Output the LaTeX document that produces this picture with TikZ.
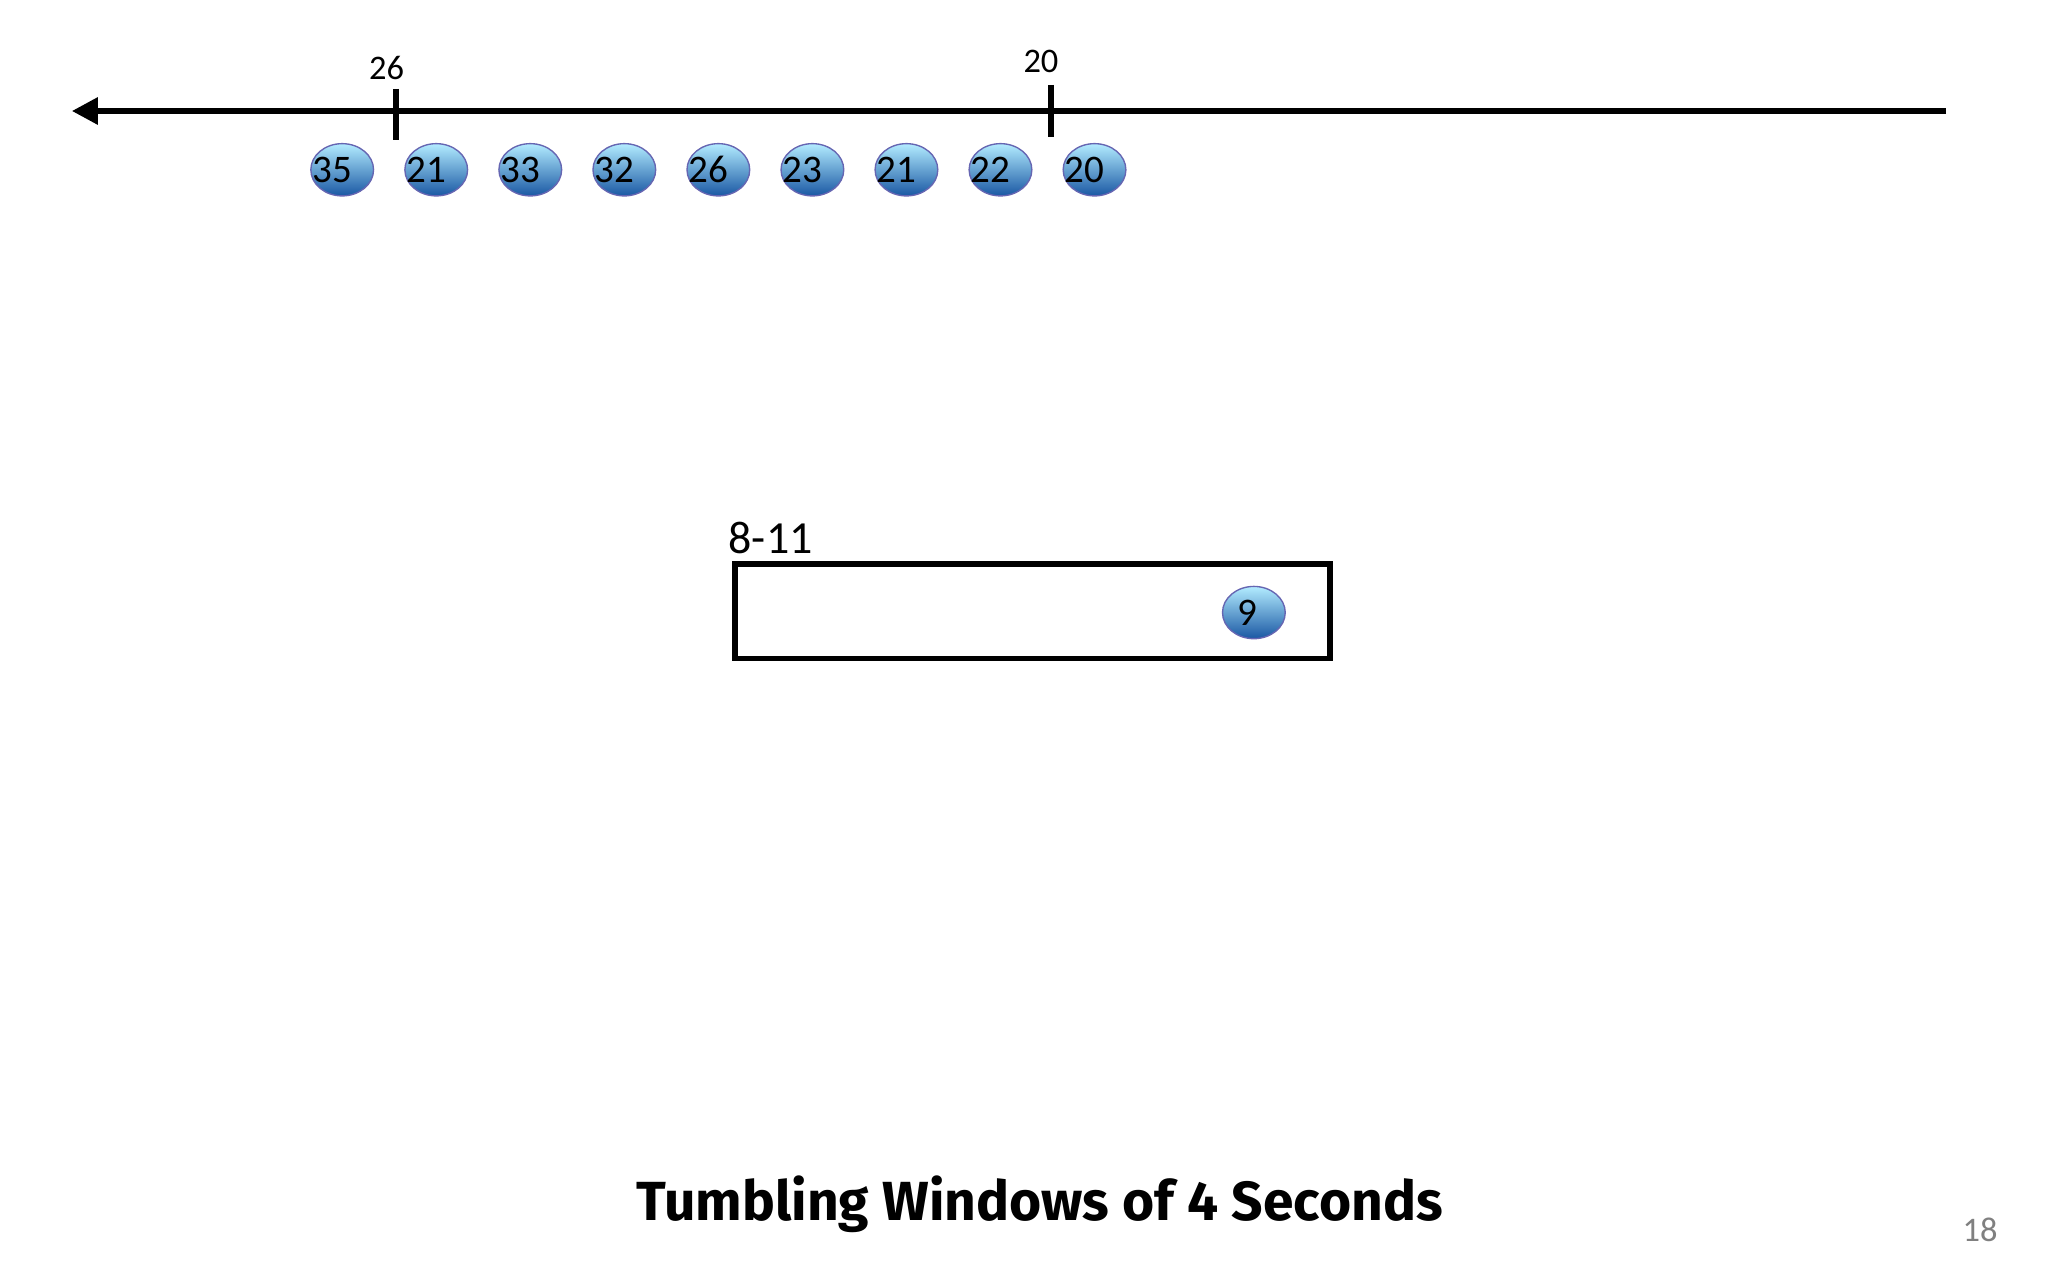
\documentclass[tikz,border=0pt]{standalone}
\usepackage{fontspec}
\setmainfont{Carlito}
\newfontfamily\titlefont{Fira Sans}
\usetikzlibrary{arrows.meta,shapes.geometric}
\begin{document}
\begin{tikzpicture}[x=0.01cm,y=-0.01cm,
  ev/.style={ellipse,minimum width=0.48cm,minimum height=0.4cm,inner sep=0pt,draw=blue!50!black!60,line width=0.3pt,top color=blue!25!cyan!30!white,bottom color=blue!55!cyan!60!black!90,font=\fontsize{8.5}{9}\selectfont},
  tick/.style={line width=1.3pt},
  lab/.style={font=\fontsize{7.5}{8}\selectfont}]
\useasboundingbox (0,0) rectangle (1568,980);
\coordinate (R) at (1490,85);
\coordinate (L) at (55,85);
\draw[line width=1.3pt,-{Triangle[length=0.2cm,width=0.2cm]}] (R) -- (L);
\draw[tick] (303,68) -- (303,107);
\draw[tick] (805,65) -- (805,105);
\node[lab] (t26) at (296,52) {26};
\node[lab] (t20) at (797,47) {20};
\foreach \v [count=\i from 0] in {35,21,33,32,26,23,21,22,20}{
  \node[ev] (e\i) at (262+72*\i,130) {\hspace*{-0.15cm}\v};
}
\node[draw,line width=1.2pt,minimum width=4.55cm,minimum height=0.72cm,inner sep=0pt] (box) at (790.5,468) {};
\node[font=\fontsize{10}{11}\selectfont] (w) at (590,412) {8-11};
\node[ev] (e9) at (960,469) {\hspace*{-0.1cm}9};
\node[font=\titlefont\bfseries\fontsize{12}{14}\selectfont] (title) at (796,922) {Tumbling Windows of 4 Seconds};
\node[text=gray,font=\fontsize{7.5}{8}\selectfont] (pg) at (1516,942) {18};
\end{tikzpicture}
\end{document}
